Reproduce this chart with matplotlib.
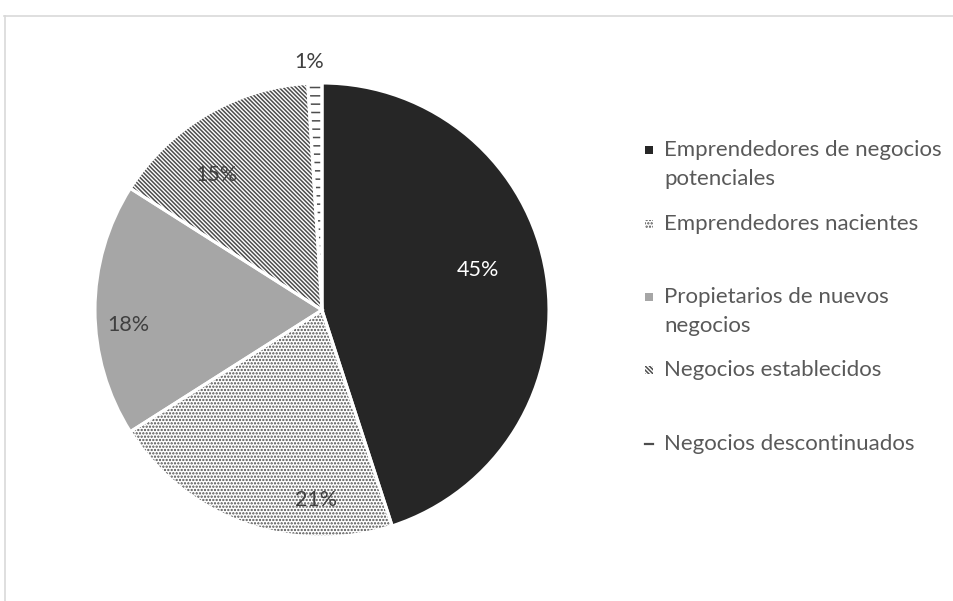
import matplotlib
matplotlib.use('Agg')
import matplotlib.pyplot as plt
from matplotlib.patches import Rectangle

plt.rcParams['font.family'] = ['Lato', 'DejaVu Sans']
plt.rcParams['hatch.linewidth'] = 1.1

categorias = ['Emprendedores de negocios\npotenciales', 'Emprendedores nacientes',
              'Propietarios de nuevos\nnegocios', 'Negocios establecidos',
              'Negocios descontinuados']
valores = [45, 21, 18, 15, 1]

colores = ['#262626', 'white', '#a6a6a6', 'white', 'white']
tramas = ['', '.....', '', '\\' * 8, '--']
color_trama = '#4d4d4d'
pos_etiquetas = [(0.687, 0.176), (-0.026, -0.837), (-0.855, -0.066),
                 (-0.463, 0.595), (-0.057, 1.093)]
color_etiquetas = ['white', '#404040', '#404040', '#404040', '#404040']

W, H = 954, 601
fig = plt.figure(figsize=(W / 100, H / 100), dpi=100)

# borde gris del area del grafico (solo arriba e izquierda visibles)
fig.add_artist(plt.Line2D([4.5 / W, 1], [1 - 15.5 / H, 1 - 15.5 / H], color='#d9d9d9', lw=1.2))
fig.add_artist(plt.Line2D([5 / W, 5 / W], [0, 1 - 15.5 / H], color='#d9d9d9', lw=1.2))

cx, cy, r = 322, 310, 227
ax = fig.add_axes([(cx - r) / W, (H - cy - r) / H, 2 * r / W, 2 * r / H])

wedges, _ = ax.pie(valores, colors=colores, startangle=90, counterclock=False,
                   wedgeprops=dict(linewidth=0, edgecolor=color_trama))
for w, t in zip(wedges, tramas):
    w.set_hatch(t)

# bordes blancos entre sectores
bordes, _ = ax.pie(valores, startangle=90, counterclock=False,
                   wedgeprops=dict(facecolor='none', linewidth=2.2, edgecolor='white'))

total = sum(valores)
for v, (x, y), c in zip(valores, pos_etiquetas, color_etiquetas):
    ax.text(x, y, f'{round(v / total * 100)}%', ha='center', va='center',
            fontsize=15.5, color=c)

ax.set_xlim(-1, 1)
ax.set_ylim(-1, 1)
ax.set_aspect('equal')
ax.axis('off')

# leyenda
ley_y = [150, 224, 297, 370, 444]
for i, (nombre, yy) in enumerate(zip(categorias, ley_y)):
    if i == 4:
        fig.add_artist(plt.Line2D([645 / W, 653 / W], [1 - yy / H, 1 - yy / H],
                                  color=color_trama, lw=1.6))
    else:
        fig.add_artist(Rectangle((645 / W, 1 - (yy + 4) / H), 8 / W, 8 / H,
                                 facecolor=colores[i], hatch=tramas[i],
                                 edgecolor=color_trama, linewidth=0))
    fig.text(664 / W, 1 - (yy - 10) / H, nombre, ha='left', va='top',
             fontsize=16, color='#595959', linespacing=1.55)

fig.savefig('out.png', dpi=100, facecolor='white')
